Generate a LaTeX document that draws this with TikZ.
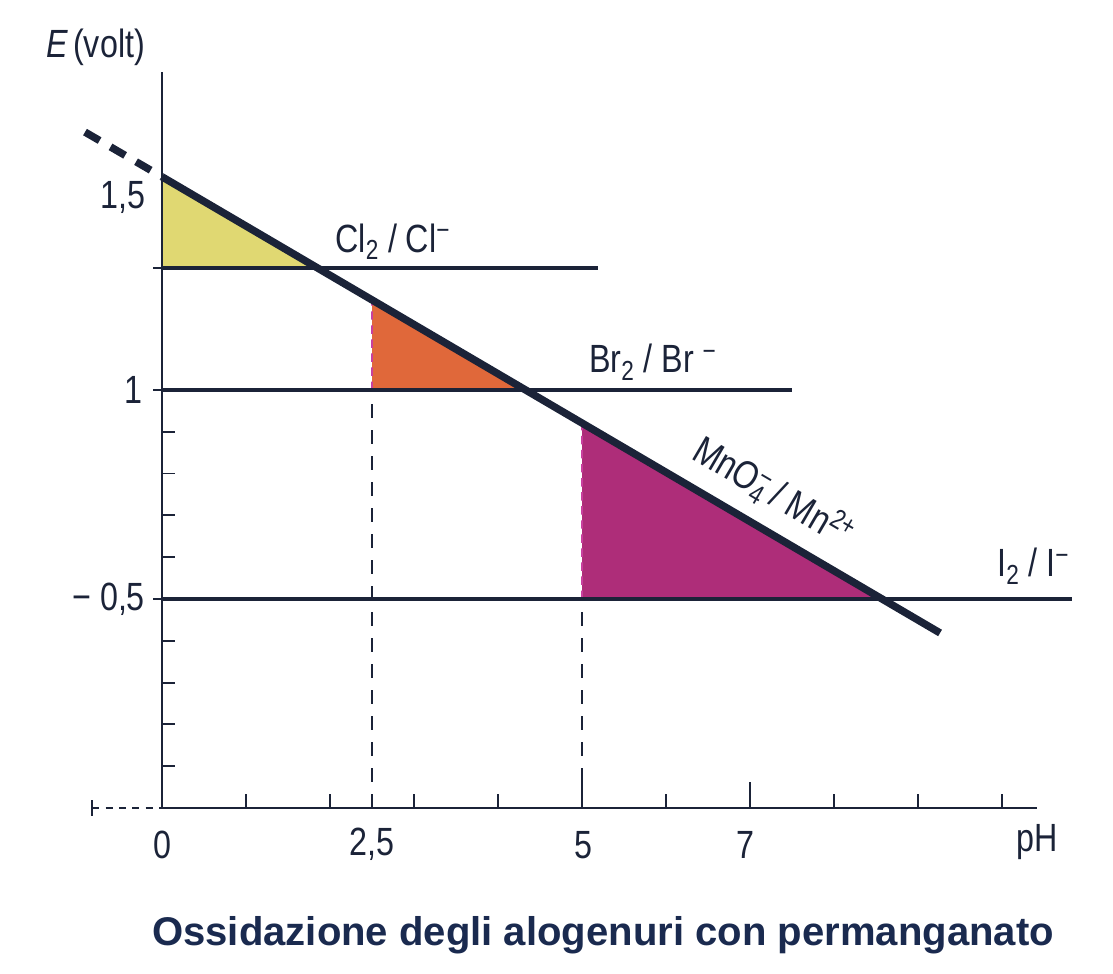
\documentclass[tikz,border=0pt]{standalone}
\usepackage{fontspec}
\setmainfont{Liberation Sans}
\newfontfamily\labelfont[FakeStretch=0.82]{Liberation Sans}
\usetikzlibrary{calc}
\definecolor{inkblue}{HTML}{1B2338}
\definecolor{titleblue}{HTML}{1A2A4F}
\definecolor{clfill}{HTML}{E0D872}
\definecolor{brfill}{HTML}{E0683A}
\definecolor{mnfill}{HTML}{AE2D79}
\definecolor{edgepink}{HTML}{C8409E}
\tikzset{
  axisline/.style={inkblue, line width=1.8pt},
  couple/.style={inkblue, line width=3.2pt},
  mnline/.style={inkblue, line width=5.3pt},
  tickmark/.style={inkblue, line width=1.3pt},
  phdash/.style={inkblue, line width=1.3pt, dash pattern=on 10pt off 8.5pt},
  edgedash/.style={edgepink, line width=1.2pt, dash pattern=on 6pt off 4pt},
  lbl/.style={inkblue, font=\labelfont\fontsize{28}{30}\selectfont, inner sep=0pt},
}

\begin{document}
\begin{tikzpicture}[x=2.1cm, y=1.045cm]
    \useasboundingbox (-1.929,-3.971) rectangle (11.321,19.33);

    \coordinate (o)    at (0,0);
    \coordinate (xend) at (10.42,0);
    \coordinate (yend) at (0,17.6);
    \coordinate (mnD)  at (-0.917,16.17);
    \coordinate (mnA)  at (0,15.10);
    \coordinate (mnB)  at (9.262,4.187);
    \coordinate (clA)  at (0,12.92);
    \coordinate (clB)  at (5.19,12.92);
    \coordinate (brA)  at (0,10);
    \coordinate (brB)  at (7.5,10);
    \coordinate (iA)   at (0,5);
    \coordinate (iB)   at (10.83,5);
    \coordinate (ph25) at (2.5,0);
    \coordinate (ph50) at (5,0);
    \coordinate (ph25b) at (2.5,10);
    \coordinate (ph50b) at (5,5);
    \coordinate (zl)   at (-0.83,0);

    % crossings with the permanganate line
    \coordinate (cl0) at (intersection of mnA--mnB and clA--clB);
    \coordinate (br0) at (intersection of mnA--mnB and brA--brB);
    \coordinate (i0)  at (intersection of mnA--mnB and iA--iB);
    \coordinate (br1) at (intersection of mnA--mnB and ph25--ph25b);
    \coordinate (mn1) at (intersection of mnA--mnB and ph50--ph50b);

    \fill[clfill] (mnA) -- (cl0) -- (clA) -- cycle;
    \fill[brfill] (br1) -- (br0) -- (ph25b) -- cycle;
    \fill[mnfill] (mn1) -- (i0) -- (ph50b) -- cycle;
    \draw[edgedash] (ph25b) -- (br1);
    \draw[edgedash] (ph50b) -- (mn1);

    \draw[phdash] (ph25) -- (ph25b);
    \draw[phdash] (ph50) -- (ph50b);

    % axes
    \draw[axisline] (yend) -- (o) -- (xend);
    \draw[tickmark, dash pattern=on 5pt off 4.5pt] (zl) -- (o);
    \draw[tickmark] ($(zl)+(0,-0.18)$) -- ($(zl)+(0,0.18)$);
    \foreach \x in {1,2,3,4,6,8,9,10}
        \draw[tickmark] (\x,0) -- ++(0,0.34);
    \draw[tickmark] (ph25) -- ++(0,0.34);
    \draw[tickmark] (5,0) -- ++(0,0.70);
    \draw[tickmark] (7,0) -- ++(0,0.63);
    \foreach \y in {1,2,3,4,6,7,8,9}
        \draw[tickmark] (0,\y) -- ++(0.155,0);
    \foreach \y in {5,10,12.92}
        \draw[tickmark] (0,\y) -- ++(-0.11,0);

    % redox couples
    \draw[couple] (clA) -- (clB);
    \draw[couple] (brA) -- (brB);
    \draw[couple] (iA) -- (iB);
    \draw[mnline, dash pattern=on 12pt off 9pt] (mnD) -- (mnA);
    \draw[mnline] (mnA) -- (mnB);

    % labels
    \node[lbl, anchor=east] (ylab) at (-0.2,18.2) {\textit{E}\hspace{0.12em}(volt)};
    \node[lbl, anchor=east] (y15) at (-0.2,14.6) {1,5};
    \node[lbl, anchor=east] (y10) at (-0.23,10) {1};
    \node[lbl, anchor=east] (y05) at (-0.2,5) {− 0,5};
    \node[lbl] (x0)  at (0,-0.88) {0};
    \node[lbl] (x25) at (2.5,-0.88) {2,5};
    \node[lbl] (x5)  at (5.02,-0.88) {5};
    \node[lbl] (x7)  at (6.94,-0.88) {7};
    \node[lbl] (xlab) at (10.42,-0.82) {pH};
    \node[lbl, anchor=base west] (cl) at (2.06,13.3)
        {Cl\textsubscript{2} / Cl\textsuperscript{−}};
    \node[lbl, anchor=base west] (br) at (5.08,10.41)
        {Br\textsubscript{2} / Br \textsuperscript{−}};
    \node[lbl, anchor=base west] (iod) at (9.94,5.53)
        {I\textsubscript{2} / I\textsuperscript{−}};
    \node[lbl, rotate=-30.4] (mn) at (7.28,7.54)
        {MnO\rlap{\textsuperscript{−}}\textsubscript{4}\,/ Mn\textsuperscript{2+}};

    \node[titleblue, font=\bfseries\fontsize{28.5}{31}\selectfont, anchor=base]
        (title) at (5.25,-3.28) {Ossidazione degli alogenuri con permanganato};

\end{tikzpicture}
\end{document}
